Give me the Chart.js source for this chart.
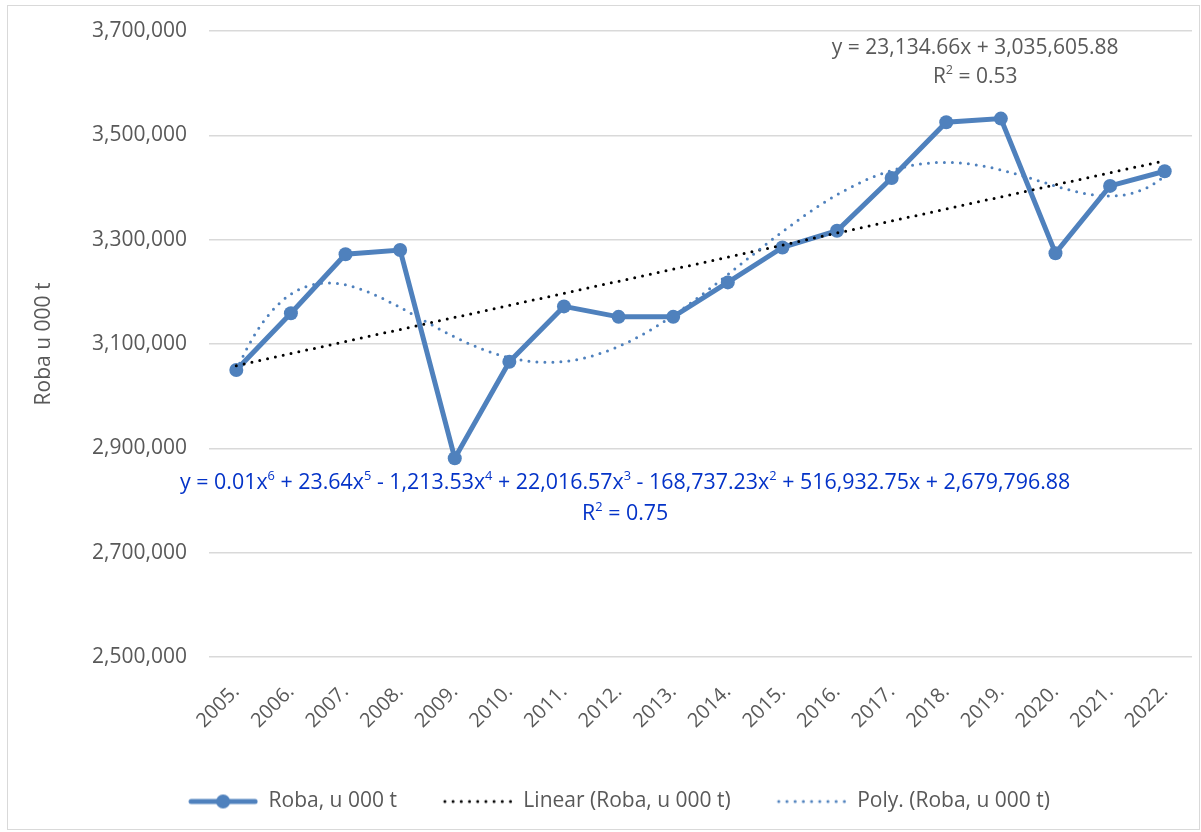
<!DOCTYPE html>
<html><head><meta charset="utf-8">
<script src="https://cdn.jsdelivr.net/npm/chart.js@4.4.1/dist/chart.umd.min.js"></script>
<style>html,body{margin:0;padding:0;background:#fff;}#wrap{width:1201px;height:832px;position:relative;}</style>
</head><body><div id="wrap"><canvas id="c" width="1201" height="832"></canvas></div>
<script>
// ---- data ----
const years = ['2005.','2006.','2007.','2008.','2009.','2010.','2011.','2012.','2013.','2014.','2015.','2016.','2017.','2018.','2019.','2020.','2021.','2022.'];
const roba = [3050000,3159000,3272000,3280000,2881000,3066000,3172000,3152000,3152000,3218000,3285000,3317000,3418000,3525000,3532000,3274000,3403000,3431000];
const yTickValues = [2500000,2700000,2900000,3100000,3300000,3500000,3700000];
const seriesName = 'Roba, u 000 t';
const linearName = 'Linear (Roba, u 000 t)';
const polyName = 'Poly. (Roba, u 000 t)';
const axisTitle = 'Roba u 000 t';
const linearEq = [['y = 23,134.66x + 3,035,605.88',0]];
const linearR2 = [['R',0],['2',1],[' = 0.53',0]];
const polyEq = [['y = 0.01x',0],['6',1],[' + 23.64x',0],['5',1],[' - 1,213.53x',0],['4',1],[' + 22,016.57x',0],['3',1],[' - 168,737.23x',0],['2',1],[' + 516,932.75x + 2,679,796.88',0]];
const polyR2 = [['R',0],['2',1],[' = 0.75',0]];

// ---- least squares fits (as the spreadsheet trendlines) ----
function polyfit(xs, ys, deg){
  const m=(xs[0]+xs[xs.length-1])/2, s=(xs[xs.length-1]-xs[0])/2;
  const ym = ys.reduce((a,b)=>a+b,0)/ys.length;
  const n=deg+1, A=Array.from({length:n},()=>new Array(n+1).fill(0));
  xs.forEach((x,k)=>{const t=(x-m)/s, y=ys[k]-ym;
    for(let i=0;i<n;i++){for(let j=0;j<n;j++)A[i][j]+=Math.pow(t,i+j);A[i][n]+=y*Math.pow(t,i);}});
  for(let c=0;c<n;c++){let p=c;for(let r=c+1;r<n;r++)if(Math.abs(A[r][c])>Math.abs(A[p][c]))p=r;
    [A[c],A[p]]=[A[p],A[c]];
    for(let r=0;r<n;r++){if(r===c)continue;const f=A[r][c]/A[c][c];for(let k=c;k<=n;k++)A[r][k]-=f*A[c][k];}}
  const co=A.map((row,i)=>row[n]/row[i]);
  return x=>{const t=(x-m)/s;let v=0;for(let i=n-1;i>=0;i--)v=v*t+co[i];return v+ym;};
}
const xs = years.map((_,i)=>i+1);
const linFit = polyfit(xs, roba, 1);
const polyFitFn = polyfit(xs, roba, 6);
const mainData = roba.map((v,i)=>({x:i+1,y:v}));
const linData = [1, years.length].map(x=>({x, y:linFit(x)}));
const polyData = [];
for(let k=0;k<=(years.length-1)*10;k++){const x=1+k/10;polyData.push({x,y:polyFitFn(x)});}

// ---- legend samples ----
const SAMPLE_MARGIN = 36, SAMPLE_LEN = 70;
function sample(kind){
  const c=document.createElement('canvas');c.width=SAMPLE_MARGIN+SAMPLE_LEN;c.height=20;const g=c.getContext('2d');
  const a=SAMPLE_MARGIN, b=SAMPLE_MARGIN+SAMPLE_LEN;
  if(kind==='main'){g.strokeStyle='#4f81bd';g.lineWidth=5;g.lineCap='round';g.beginPath();g.moveTo(a+3,10);g.lineTo(b-3,10);g.stroke();
    g.fillStyle='#4f81bd';g.beginPath();g.arc(a+35,10,7,0,Math.PI*2);g.fill();}
  else{g.fillStyle=kind==='lin'?'#000':'#4f81bd';for(let x=a+2;x<=b-2;x+=8.2){g.beginPath();g.arc(x,10,1.5,0,Math.PI*2);g.fill();}}
  return c;
}
const legendImgs=[sample('main'),sample('lin'),sample('poly')];

const FONT='"Open Sans", "Liberation Sans", sans-serif';
function richWidth(ctx,segs,size){let w=0;segs.forEach(([t,sup])=>{ctx.font=(sup?size*0.6:size)+'px '+FONT;w+=ctx.measureText(t).width;});return w;}
function drawRich(ctx,segs,cx,cy,size,color){
  const w=richWidth(ctx,segs,size);let x=cx-w/2;ctx.fillStyle=color;ctx.textBaseline='middle';ctx.textAlign='left';
  segs.forEach(([t,sup])=>{ctx.font=(sup?size*0.6:size)+'px '+FONT;ctx.fillText(t,x,sup?cy-size*0.3:cy);x+=ctx.measureText(t).width;});
}
const eqPlugin={id:'eqs',afterDatasetsDraw(chart){
  const {ctx,scales:{x,y}}=chart;ctx.save();
  const lx=x.getPixelForValue(14.53), ly=y.getPixelForValue(3667000);
  drawRich(ctx,linearEq,lx,ly,21,'#595959');drawRich(ctx,linearR2,lx,ly+29,21,'#595959');
  const px=x.getPixelForValue(8.12), py=y.getPixelForValue(2834000);
  drawRich(ctx,polyEq,px,py,21.4,'#0433c8');drawRich(ctx,polyR2,px,py+31,21.4,'#0433c8');
  ctx.restore();
}};
const borderPlugin={id:'frame',beforeDraw(chart){const c=chart.ctx;c.save();c.fillStyle='#fff';c.fillRect(0,0,chart.width,chart.height);
  c.strokeStyle='#d9d9d9';c.lineWidth=1;c.strokeRect(7.5,5.5,chart.width-9,chart.height-8);c.restore();}};

new Chart(document.getElementById('c'),{
  type:'line',
  data:{datasets:[
    {label:seriesName,data:mainData,borderColor:'#4f81bd',backgroundColor:'#4f81bd',borderWidth:5,pointRadius:7,pointHoverRadius:7,pointBackgroundColor:'#4f81bd',pointBorderWidth:0,tension:0,order:3},
    {label:linearName,data:linData,borderColor:'#000',borderWidth:3,borderDash:[0,8],borderCapStyle:'round',pointRadius:0,tension:0,order:2},
    {label:polyName,data:polyData,borderColor:'#4f81bd',borderWidth:3,borderDash:[0,8],borderCapStyle:'round',pointRadius:0,tension:0,order:1}
  ]},
  options:{responsive:false,animation:false,
    layout:{padding:{left:10,right:9,top:28,bottom:10}},
    plugins:{tooltip:{enabled:false},
      legend:{position:'bottom',labels:{usePointStyle:true,pointStyleWidth:SAMPLE_MARGIN+SAMPLE_LEN,boxHeight:20,padding:10,color:'#595959',font:{family:FONT,size:21},
        generateLabels(chart){const items=Chart.defaults.plugins.legend.labels.generateLabels(chart);items.sort((a,b)=>a.datasetIndex-b.datasetIndex);
          items.forEach(it=>{it.pointStyle=legendImgs[it.datasetIndex];});return items;}}}},
    scales:{
      x:{type:'linear',min:0.5,max:years.length+0.5,
        afterBuildTicks(s){s.ticks=years.map((_,i)=>({value:i+1}));},
        afterFit(s){s.height=124;},
        grid:{display:false,drawTicks:true,tickLength:5},border:{display:false},
        ticks:{autoSkip:false,maxRotation:45,minRotation:45,padding:18,color:'#595959',font:{family:FONT,size:20},callback:(v,i)=>years[i]}},
      y:{min:2500000,max:3700000,
        afterBuildTicks(s){s.ticks=yTickValues.map(v=>({value:v}));},
        afterFit(s){s.width=199;},
        grid:{color:'#d9d9d9',lineWidth:1.5,drawTicks:false},border:{display:false},
        title:{display:true,text:axisTitle,color:'#595959',font:{family:FONT,size:21},padding:{top:21,bottom:0}},
        ticks:{padding:22,color:'#595959',font:{family:FONT,size:21,lineHeight:0.85},callback:v=>v.toLocaleString('en-US')}}
    }},
  plugins:[borderPlugin,eqPlugin]
});
</script></body></html>
